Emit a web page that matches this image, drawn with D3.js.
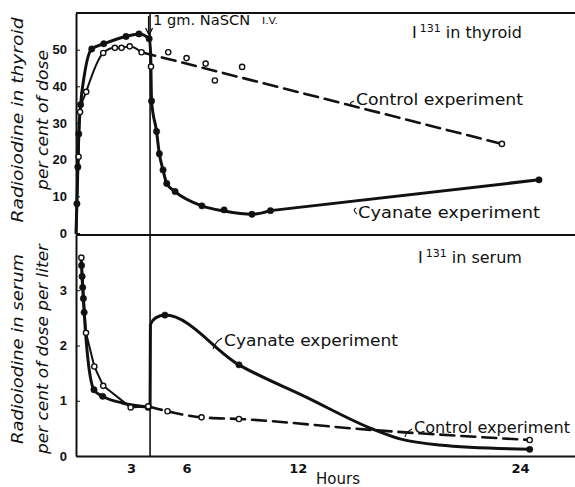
<!DOCTYPE html>
<html>
<head>
<meta charset="utf-8">
<script src="https://cdn.jsdelivr.net/npm/d3@7"></script>
<style>
  body { margin: 0; background: #fff; }
  svg { display: block; font-family: "DejaVu Sans", sans-serif; }
  .tick text { font-size: 13px; font-weight: bold; fill: #111; }
</style>
</head>
<body>
<div id="chart"></div>
<script>
// ---- data (hours, value) ----
// thyroid, per cent of dose
const thyroidCyanate = [[0,0],[0.05,8],[0.1,18],[0.15,27],[0.25,35],[0.45,43],[0.85,50.2],[1.5,51.6],
  [2.7,53.6],[3.4,54.3],[3.95,53],[4.03,49],[4.08,36],[4.35,27.7],[4.5,21.6],[4.7,17.2],[4.9,13.5],
  [5.35,11.3],[6.8,7.4],[8.0,6.0],[9.5,5.1],[10.5,6.1]];
const thyroidCyanateRecovery = [[10.5,6.1],[25,14.5]];
const thyroidCyanateDots = [[0.05,8],[0.1,18],[0.15,27],[0.25,35],[0.85,50.2],[1.5,51.6],[2.7,53.6],
  [3.4,54.3],[3.95,53],[4.08,36],[4.35,27.7],[4.5,21.6],[4.7,17.2],[4.9,13.5],[5.35,11.3],[6.8,7.4],
  [8.0,6.3],[9.5,5.1],[10.5,6.1],[25,14.5]];
const thyroidControlRise = [[0,0],[0.14,20.8],[0.22,33],[0.55,38.5],[1.47,49.1],[2.1,50.5],[2.46,50.5],[2.9,50.9],[3.54,49.3]];
const thyroidControlFit = [[3.54,49.3],[23,24.3]];
const thyroidControlDots = [[0.14,20.8],[0.22,33],[0.55,38.5],[1.47,49.1],[2.1,50.5],[2.46,50.5],[2.9,50.9],
  [3.54,49.3],[4.05,45.4],[4.98,49.3],[5.97,47.7],[7.0,46.2],[7.5,41.6],[8.97,45.3],[23,24.3]];

// serum, per cent of dose per liter
const serumCyanateBefore = [[0.28,3.55],[0.35,3.1],[0.42,2.7],[0.5,2.3],[0.6,1.9],[0.97,1.2],[1.44,1.08],[2.5,0.96],[4.0,0.88]];
const serumCyanateAfter = [[4.0,0.88],[4.02,2.38],[4.3,2.5],[4.8,2.55],[8.8,1.65],[12.4,1.07],[16,0.49],
  [17.5,0.31],[19.6,0.2],[24.5,0.12]];
const serumCyanateDots = [[0.3,3.45],[0.33,3.25],[0.36,3.05],[0.4,2.85],[0.44,2.6],[0.97,1.2],[1.44,1.08],
  [3.9,0.88],[4.8,2.55],[8.8,1.65],[24.5,0.12]];
const serumControlEarly = [[0.29,3.59],[0.54,2.23],[0.99,1.62],[1.47,1.27],[2.95,0.88],[3.9,0.9]];
const serumControlLate = [[3.9,0.9],[4.94,0.81],[6.78,0.70],[8.8,0.67],[16,0.47],[24.5,0.29]];
const serumControlDots = [[0.29,3.59],[0.54,2.23],[0.99,1.62],[1.47,1.27],[2.95,0.88],[3.9,0.9],
  [4.94,0.81],[6.78,0.70],[8.8,0.67],[24.5,0.29]];

const injectionHour = 4;
const hourTicks = [3, 6, 12, 24];
const thyroidTicks = [0, 10, 20, 30, 40, 50];
const serumTicks = [0, 1, 2, 3];

// ---- drawing ----
const W = 575, H = 487;
const svg = d3.select("#chart").append("svg").attr("width", W).attr("height", H);

const x = d3.scaleLinear().domain([0, 27]).range([76, 576]);
const yTop = d3.scaleLinear().domain([0, 60]).range([233, 13]);
const yBot = d3.scaleLinear().domain([0, 4]).range([456, 235]);

const ink = "#111";

// frame lines
svg.append("line").attr("x1", x(0)).attr("x2", W).attr("y1", yTop(60)).attr("y2", yTop(60))
  .attr("stroke", ink).attr("stroke-width", 2);
svg.append("line").attr("x1", x(0)).attr("x2", W).attr("y1", yBot(4)).attr("y2", yBot(4))
  .attr("stroke", ink).attr("stroke-width", 2);

// y axes
const axTop = svg.append("g").attr("transform", `translate(${x(0)},0)`)
  .call(d3.axisLeft(yTop).tickValues(thyroidTicks).tickSize(-4).tickSizeOuter(0).tickPadding(9).tickFormat(d3.format("d")));
const axBot = svg.append("g").attr("transform", `translate(${x(0)},0)`)
  .call(d3.axisLeft(yBot).tickValues(serumTicks).tickSize(-4).tickSizeOuter(0).tickPadding(9).tickFormat(d3.format("d")));
[axTop, axBot].forEach(a => {
  a.select(".domain").attr("stroke", ink).attr("stroke-width", 2);
  a.selectAll(".tick line").attr("stroke", ink).attr("stroke-width", 1);
});

// x axis line (labels drawn below from hourTicks)
const axX = svg.append("g").attr("transform", `translate(0,${yBot(0)})`)
  .call(d3.axisBottom(x).tickValues(hourTicks).tickSize(0).tickSizeOuter(0).tickFormat(""));
axX.select(".domain").attr("stroke", ink).attr("stroke-width", 2);

svg.append("g").selectAll("text").data(hourTicks).join("text")
  .attr("x", d => x(d)).attr("y", yBot(0) + 17)
  .attr("text-anchor", "middle").attr("font-size", 13).attr("font-weight", "bold").attr("fill", ink)
  .text(d => d);

svg.append("text").attr("x", 338).attr("y", 484).attr("text-anchor", "middle")
  .attr("font-size", 15).attr("fill", ink).text("Hours");

// injection line
svg.append("line").attr("x1", x(injectionHour)).attr("x2", x(injectionHour))
  .attr("y1", yTop(60)).attr("y2", yBot(0)).attr("stroke", ink).attr("stroke-width", 1.6);
// arrow
svg.append("path")
  .attr("d", `M${x(injectionHour) - 1.5},16 V34 M${x(injectionHour) - 4.5},28 L${x(injectionHour) - 1},35 L${x(injectionHour) + 2.5},28`)
  .attr("fill", "none").attr("stroke", ink).attr("stroke-width", 1.3);

// y titles
function yTitle(cx, cy, lines) {
  const t = svg.append("text").attr("transform", `translate(${cx},${cy}) rotate(-90)`)
    .attr("text-anchor", "middle").attr("font-style", "italic").attr("font-size", 15).attr("fill", ink);
  lines.forEach((s, i) => {
    t.append("tspan").attr("x", 0).attr("y", i * 25).attr("textLength", s.len)
      .attr("lengthAdjust", "spacingAndGlyphs").text(s.txt);
  });
}
yTitle(23, 120, [{txt: "Radioiodine  in  thyroid", len: 205}, {txt: "per cent of dose", len: 140}]);
yTitle(23, 349, [{txt: "Radioiodine  in  serum", len: 190}, {txt: "per cent of dose per liter", len: 210}]);

// lines
const smooth = d3.line().x(d => x(d[0])).curve(d3.curveMonotoneX);
const straight = d3.line().x(d => x(d[0]));

function drawLine(data, yS, gen, width, dash) {
  svg.append("path").datum(data)
    .attr("d", gen.y(d => yS(d[1])))
    .attr("fill", "none").attr("stroke", ink).attr("stroke-width", width)
    .attr("stroke-linejoin", "round").attr("stroke-linecap", "round")
    .attr("stroke-dasharray", dash || null);
}

drawLine(thyroidControlRise, yTop, smooth, 2, null);
drawLine(thyroidControlFit, yTop, straight, 2.6, "14,7");
drawLine(thyroidCyanate, yTop, smooth, 3, null);
drawLine(thyroidCyanateRecovery, yTop, straight, 3, null);

drawLine(serumControlEarly, yBot, straight, 2, null);
drawLine(serumControlLate, yBot, smooth, 2.6, "14,7");
drawLine(serumCyanateBefore, yBot, smooth, 3, null);
drawLine(serumCyanateAfter, yBot, smooth, 3, null);

// dots
function dots(data, yS, open) {
  svg.append("g").selectAll("circle").data(data).join("circle")
    .attr("cx", d => x(d[0])).attr("cy", d => yS(d[1]))
    .attr("r", open ? 2.6 : 3.2)
    .attr("fill", open ? "#fff" : ink)
    .attr("stroke", ink).attr("stroke-width", open ? 1.4 : 0.5);
}
dots(thyroidCyanateDots, yTop, false);
dots(thyroidControlDots, yTop, true);
dots(serumCyanateDots, yBot, false);
dots(serumControlDots, yBot, true);

// annotations
function label(tx, ty, txt, len, size) {
  svg.append("text").attr("x", tx).attr("y", ty).attr("font-size", size || 15).attr("fill", ink)
    .attr("textLength", len).attr("lengthAdjust", "spacingAndGlyphs").text(txt);
}
function sup(tx, ty, rest) {
  const t = svg.append("text").attr("x", tx).attr("y", ty).attr("font-size", 16).attr("fill", ink);
  t.append("tspan").text("I");
  t.append("tspan").attr("font-size", 11).attr("dy", -6).attr("dx", 3).text("131");
  t.append("tspan").attr("dy", 6).attr("dx", 5).text(rest);
}

label(x(injectionHour) + 3, 25, "1 gm. NaSCN", 97, 14);
label(262, 24, "I.V.", 16, 8);
sup(412, 38, "in thyroid");
sup(418, 263, "in serum");

label(356, 105, "Control   experiment", 167);
label(358, 218, "Cyanate  experiment", 182);
label(224, 346, "Cyanate  experiment", 174);
label(414, 433, "Control  experiment", 156);

// label leaders
const lead = [
  "M354,101 Q348,103 352,106",
  "M356,208 Q352,210 357,214",
  "M222,338 Q215,342 213,349",
  "M412,429 Q406,432 405,437"
];
lead.forEach(p => svg.append("path").attr("d", p).attr("fill", "none").attr("stroke", ink).attr("stroke-width", 1.2));
</script>
</body>
</html>
